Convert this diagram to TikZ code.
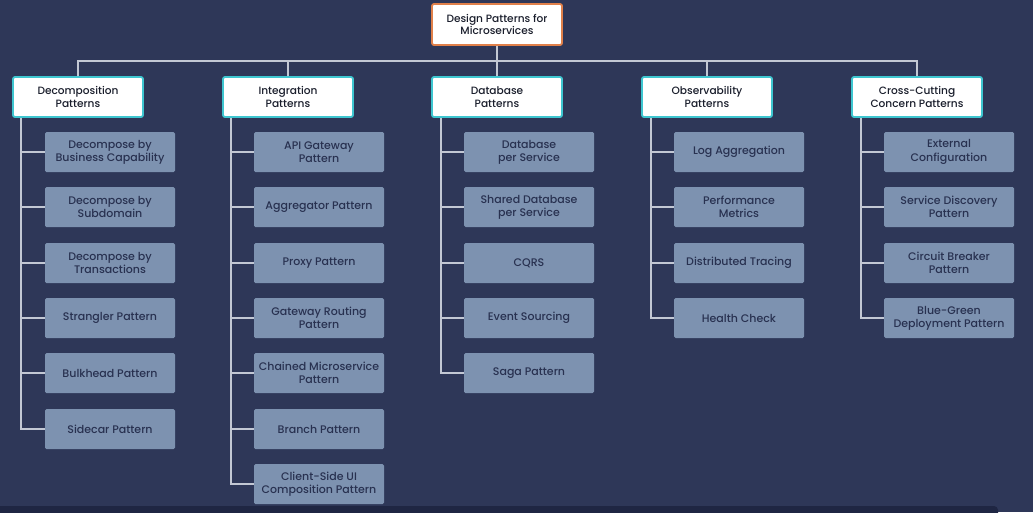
\documentclass[tikz,border=0pt]{standalone}
\usepackage{fontspec}
\setmainfont{Poppins Medium}
\definecolor{bg}{HTML}{2E3758}
\definecolor{strip}{HTML}{1F2643}
\definecolor{child}{HTML}{7D92B0}
\definecolor{childtxt}{HTML}{283150}
\definecolor{wire}{HTML}{C3C8D4}
\definecolor{teal}{HTML}{3EC6D0}
\definecolor{orng}{HTML}{E0804A}
\definecolor{dtxt}{HTML}{1A1E2C}
\begin{document}
\begin{tikzpicture}[x=1pt,y=-1pt,
  rootbox/.style={draw=orng,line width=1.8pt,fill=white,rounded corners=2pt,
    minimum width=130pt,minimum height=41pt,align=center,text=dtxt,
    font=\fontsize{10.6}{12.8}\selectfont},
  catbox/.style={draw=teal,line width=1.8pt,fill=white,rounded corners=2pt,
    minimum width=130pt,minimum height=40pt,align=center,text=dtxt,
    font=\fontsize{10.6}{12.8}\selectfont},
  itembox/.style={fill=child,rounded corners=1.5pt,minimum width=130pt,
    minimum height=40pt,align=center,text=childtxt,inner sep=1pt,
    font=\fontsize{11}{13.2}\selectfont},
  wireline/.style={draw=wire,line width=1.3pt}]
\useasboundingbox (0,0) rectangle (1033,512);
\fill[bg] (0,0) rectangle (1033,512);
\fill[strip,rounded corners=4pt] (-5,506) rectangle (998,520);

\node[rootbox] (root) at (497,24.5) {Design Patterns for\\Microservices};

\node[catbox] (c1) at (78,97) {Decomposition\\Patterns};
\node[catbox] (c2) at (288,97) {Integration\\Patterns};
\node[catbox] (c3) at (497,97) {Database\\Patterns};
\node[catbox] (c4) at (707,97) {Observability\\Patterns};
\node[catbox] (c5) at (917,97) {Cross-Cutting\\Concern Patterns};

\coordinate (bus) at (497,61);
\draw[wireline] (root.south) -- (bus);
\draw[wireline] (c1.north) |- (bus) -| (c5.north);
\draw[wireline] (c2.north) -- (c2.north |- bus);
\draw[wireline] (c3.north) -- (c3.north |- bus);
\draw[wireline] (c4.north) -- (c4.north |- bus);

% column 1
\node[itembox] (a1) at (110,152) {Decompose by\\Business Capability};
\node[itembox] (a2) at (110,207) {Decompose by\\Subdomain};
\node[itembox] (a3) at (110,263) {Decompose by\\Transactions};
\node[itembox] (a4) at (110,318) {Strangler Pattern};
\node[itembox] (a5) at (110,373) {Bulkhead Pattern};
\node[itembox] (a6) at (110,429) {Sidecar Pattern};
\coordinate (t1) at (21,118);
\draw[wireline] (t1) |- (a6.west);
\foreach \n in {a1,a2,a3,a4,a5} \draw[wireline] (t1 |- \n.west) -- (\n.west);

% column 2
\node[itembox] (b1) at (319,152) {API Gateway\\Pattern};
\node[itembox] (b2) at (319,207) {Aggregator Pattern};
\node[itembox] (b3) at (319,263) {Proxy Pattern};
\node[itembox] (b4) at (319,318) {Gateway Routing\\Pattern};
\node[itembox] (b5) at (319,373) {Chained Microservice\\Pattern};
\node[itembox] (b6) at (319,429) {Branch Pattern};
\node[itembox] (b7) at (319,484) {Client-Side UI\\Composition Pattern};
\coordinate (t2) at (231,118);
\draw[wireline] (t2) |- (b7.west);
\foreach \n in {b1,b2,b3,b4,b5,b6} \draw[wireline] (t2 |- \n.west) -- (\n.west);

% column 3
\node[itembox] (d1) at (529,152) {Database\\per Service};
\node[itembox] (d2) at (529,207) {Shared Database\\per Service};
\node[itembox] (d3) at (529,263) {CQRS};
\node[itembox] (d4) at (529,318) {Event Sourcing};
\node[itembox] (d5) at (529,373) {Saga Pattern};
\coordinate (t3) at (441,118);
\draw[wireline] (t3) |- (d5.west);
\foreach \n in {d1,d2,d3,d4} \draw[wireline] (t3 |- \n.west) -- (\n.west);

% column 4
\node[itembox] (e1) at (739,152) {Log Aggregation};
\node[itembox] (e2) at (739,207) {Performance\\Metrics};
\node[itembox] (e3) at (739,263) {Distributed Tracing};
\node[itembox] (e4) at (739,318) {Health Check};
\coordinate (t4) at (651,118);
\draw[wireline] (t4) |- (e4.west);
\foreach \n in {e1,e2,e3} \draw[wireline] (t4 |- \n.west) -- (\n.west);

% column 5
\node[itembox] (f1) at (949,152) {External\\Configuration};
\node[itembox] (f2) at (949,207) {Service Discovery\\Pattern};
\node[itembox] (f3) at (949,263) {Circuit Breaker\\Pattern};
\node[itembox] (f4) at (949,318) {Blue-Green\\Deployment Pattern};
\coordinate (t5) at (861,118);
\draw[wireline] (t5) |- (f4.west);
\foreach \n in {f1,f2,f3} \draw[wireline] (t5 |- \n.west) -- (\n.west);
\end{tikzpicture}
\end{document}
